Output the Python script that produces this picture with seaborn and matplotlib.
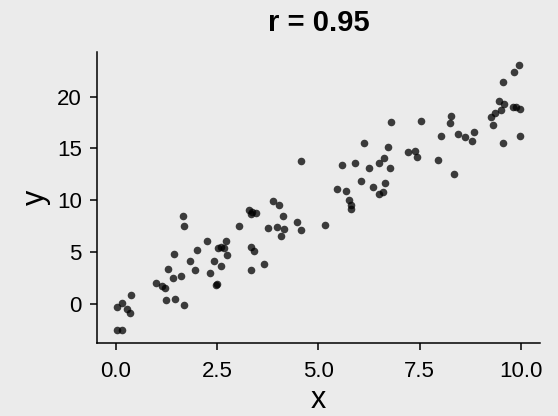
import pandas as pd
import matplotlib.pyplot as plt
import seaborn as sns

# values
x = [0.04, 0.16, 0.28, 0.35, 0.37, 0.04, 0.16,
     1.00, 1.14, 1.23, 1.25, 1.46, 1.68, 1.29, 1.41, 1.62, 1.43, 1.67, 1.68,
     1.84, 1.96, 2.00, 2.26, 2.32, 2.43, 2.48, 2.50, 2.60, 2.52, 2.60, 2.68,
     2.73, 2.76, 3.04, 3.29, 3.37, 3.47, 3.33, 3.33, 3.42, 3.33, 3.65,
     3.77, 3.89, 3.99, 4.03, 4.09, 4.13, 4.15, 4.47, 4.58, 4.58,
     5.16, 5.46, 5.59, 5.68, 5.75, 5.82, 5.82, 5.92, 6.05, 6.14, 6.25,
     6.34, 6.49, 6.49, 6.60, 6.62, 6.65, 6.73, 6.78, 6.79,
     7.21, 7.38, 7.43, 7.54, 7.96, 8.03, 8.25, 8.27, 8.34, 8.45, 8.63,
     8.79, 8.85, 9.26, 9.32, 9.37, 9.47, 9.50, 9.55, 9.57, 9.58, 9.80,
     9.87, 9.97, 9.83, 9.95, 9.98]
y = [-0.29, 0.15, -0.45, -0.86, 0.86, -2.43, -2.43,
     2.01, 1.72, 1.59, 0.41, 0.48, -0.07, 3.38, 2.49, 2.68, 4.82, 8.49, 7.50,
     4.15, 3.31, 5.20, 6.09, 3.06, 4.15, 1.88, 1.95, 3.70, 5.45, 5.55, 5.45,
     6.09, 4.75, 7.50, 9.03, 8.87, 8.75, 8.68, 5.56, 5.14, 3.26, 3.86,
     7.34, 9.96, 7.40, 9.54, 6.57, 8.46, 7.24, 7.95, 7.15, 13.79,
     7.62, 11.14, 13.41, 10.88, 10.02, 9.51, 9.20, 13.63, 11.90, 15.52, 13.12,
     11.26, 13.60, 10.66, 10.85, 14.08, 11.71, 15.13, 13.12, 17.53,
     14.66, 14.78, 14.18, 17.65, 13.92, 16.22, 17.49, 18.13, 12.58, 16.41, 16.09,
     15.67, 16.60, 18.00, 17.30, 18.45, 19.54, 18.68, 15.52, 21.39, 19.28, 19.02,
     18.99, 18.77, 22.32, 23.05, 16.22]

df = pd.DataFrame({"x": x, "y": y})

sns.set_theme(style="ticks", rc={
    "axes.facecolor": "#EBEBEB",
    "figure.facecolor": "#EBEBEB",
    "axes.edgecolor": "black",
    "axes.linewidth": 1.1,
    "xtick.major.size": 5,
    "ytick.major.size": 5,
    "xtick.major.width": 1.1,
    "ytick.major.width": 1.1,
    "xtick.color": "black",
    "ytick.color": "black",
    "text.color": "black",
    "axes.labelcolor": "black",
})
plt.rcParams["font.family"] = ["Liberation Sans", "DejaVu Sans"]

fig, ax = plt.subplots(figsize=(5.58, 4.16), dpi=100)
fig.subplots_adjust(left=0.174, right=0.968, bottom=0.176, top=0.876)

sns.scatterplot(data=df, x="x", y="y", color="black", alpha=0.75,
                s=30, linewidth=0, ax=ax)
sns.despine(ax=ax)

ax.set_xticks([0, 2.5, 5, 7.5, 10])
ax.set_xticklabels(["0.0", "2.5", "5.0", "7.5", "10.0"])
ax.set_yticks([0, 5, 10, 15, 20])
ax.tick_params(axis="x", labelsize=16, pad=8)
ax.tick_params(axis="y", labelsize=16, pad=6)
ax.set_xlabel("x", fontsize=22, labelpad=2)
ax.set_ylabel("y", fontsize=22, labelpad=4)
ax.set_title("r = 0.95", fontsize=21, fontweight="bold", pad=15)

plt.savefig("out.png", dpi=100)
